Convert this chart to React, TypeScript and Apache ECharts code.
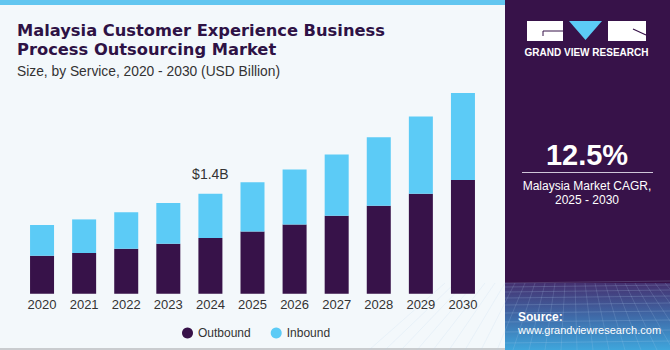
import React, { useEffect, useRef } from "react";
import * as echarts from "echarts";

const years = ["2020", "2021", "2022", "2023", "2024", "2025", "2026", "2027", "2028", "2029", "2030"];
const outbound = [0.53, 0.57, 0.63, 0.7, 0.78, 0.87, 0.97, 1.09, 1.23, 1.4, 1.59];
const inbound = [0.43, 0.47, 0.51, 0.57, 0.62, 0.69, 0.77, 0.86, 0.96, 1.08, 1.22];
const highlightYear = "2024";
const highlightLabel = "$1.4B";
const seriesNames = ["Outbound", "Inbound"];

const DARK = "#371249";
const BLUE = "#5ccbf6";

export default function App() {
  const ref = useRef<HTMLDivElement>(null);
  useEffect(() => {
    if (!ref.current) return;
    const chart = echarts.init(ref.current, null, { renderer: "svg" });

    // perspective grid lines for panel bottom decoration
    const gridLines: any[] = [];
    const py0 = 283;
    const py1 = 350;
    const hs = [0, 4, 9, 15, 22, 30, 39, 49, 60];
    hs.forEach((h) => {
      const y = py0 + h;
      if (y <= py1) {
        gridLines.push({
          type: "line",
          silent: true,
          shape: { x1: 505, y1: y, x2: 670, y2: y - 2 },
          style: { stroke: "rgba(180,210,240,0.3)", lineWidth: 0.7 },
        });
      }
    });
    for (let i = -6; i <= 16; i++) {
      const xTop = 505 + i * 10;
      const xBot = 505 + i * 16 - 40;
      gridLines.push({
        type: "line",
        silent: true,
        shape: { x1: xTop, y1: py0, x2: xBot, y2: py1 },
        style: { stroke: "rgba(180,210,240,0.25)", lineWidth: 0.7 },
      });
    }

    chart.setOption({
      animation: false,
      backgroundColor: "#f3f8fb",
      grid: { left: 21, right: 186, top: 79.4, bottom: 56.3, containLabel: false },
      xAxis: {
        type: "category",
        data: years,
        axisLine: { show: false },
        axisTick: { show: false },
        axisLabel: { color: "#333", fontSize: 13, fontFamily: "Liberation Sans", margin: 4 },
      },
      yAxis: { type: "value", min: 0, max: 3, show: false, splitLine: { show: false } },
      legend: {
        data: seriesNames,
        left: 177,
        top: 322,
        icon: "circle",
        itemWidth: 11,
        itemHeight: 11,
        itemGap: 20,
        textStyle: { color: "#333", fontSize: 12, fontFamily: "Liberation Sans" },
      },
      series: [
        {
          name: seriesNames[0],
          type: "bar",
          stack: "t",
          barWidth: 24,
          data: outbound,
          itemStyle: { color: DARK },
        },
        {
          name: seriesNames[1],
          type: "bar",
          stack: "t",
          barWidth: 24,
          itemStyle: { color: BLUE },
          data: inbound.map((v, i) =>
            years[i] === highlightYear
              ? {
                  value: v,
                  label: {
                    show: true,
                    position: "top",
                    distance: 13,
                    formatter: highlightLabel,
                    color: "#333",
                    fontSize: 14,
                    fontFamily: "Liberation Sans",
                  },
                }
              : v
          ),
        },
      ],
      graphic: [
        { type: "rect", silent: true, shape: { x: 0, y: 0, width: 505, height: 5 }, style: { fill: "#62c6f0" } },
        { type: "rect", silent: true, shape: { x: 0, y: 348, width: 505, height: 2 }, style: { fill: "#c9cccf" } },
        { type: "rect", silent: true, shape: { x: 505, y: 0, width: 165, height: 350 }, style: { fill: DARK } },
        {
          type: "rect",
          silent: true,
          shape: { x: 505, y: 283, width: 165, height: 67 },
          style: {
            fill: new echarts.graphic.LinearGradient(0, 0, 0, 1, [
              { offset: 0, color: "#45306f" },
              { offset: 0.5, color: "#3f6aa8" },
              { offset: 1, color: "#3fa6dc" },
            ]),
          },
        },
        ...gridLines,
        // logo
        { type: "rect", silent: true, shape: { x: 527, y: 21, width: 36, height: 20 }, style: { fill: "#fff" } },
        {
          type: "polyline",
          silent: true,
          shape: { points: [[563, 31], [543, 31], [543, 36]] },
          style: { stroke: DARK, lineWidth: 1, fill: "none" },
        },
        {
          type: "polygon",
          silent: true,
          shape: { points: [[569, 21], [602, 21], [585.5, 40]] },
          style: { fill: BLUE },
        },
        { type: "rect", silent: true, shape: { x: 608, y: 21, width: 38, height: 20 }, style: { fill: "#fff" } },
        {
          type: "line",
          silent: true,
          shape: { x1: 633, y1: 29, x2: 646, y2: 35 },
          style: { stroke: DARK, lineWidth: 1.2 },
        },
        {
          type: "text",
          silent: true,
          x: 586.5,
          y: 52,
          style: {
            text: "GRAND VIEW RESEARCH",
            fill: "#fff",
            fontSize: 10,
            fontWeight: "bold",
            fontFamily: "Liberation Sans",
            align: "center",
            verticalAlign: "middle",
          },
        },
        // title
        {
          type: "text",
          silent: true,
          x: 17,
          y: 30,
          style: {
            text: "Malaysia Customer Experience Business",
            fill: "#2e1245",
            fontSize: 16.3,
            fontWeight: "bold",
            fontFamily: "DejaVu Sans",
            verticalAlign: "middle",
          },
        },
        {
          type: "text",
          silent: true,
          x: 17,
          y: 49,
          style: {
            text: "Process Outsourcing Market",
            fill: "#2e1245",
            fontSize: 16.3,
            fontWeight: "bold",
            fontFamily: "DejaVu Sans",
            verticalAlign: "middle",
          },
        },
        {
          type: "text",
          silent: true,
          x: 17,
          y: 71,
          style: {
            text: "Size, by Service, 2020 - 2030 (USD Billion)",
            fill: "#333",
            fontSize: 13.8,
            fontFamily: "Liberation Sans",
            verticalAlign: "middle",
          },
        },
        // panel texts
        {
          type: "text",
          silent: true,
          x: 587,
          y: 155,
          style: {
            text: "12.5%",
            fill: "#fff",
            fontSize: 29,
            fontWeight: "bold",
            fontFamily: "Liberation Sans",
            align: "center",
            verticalAlign: "middle",
          },
        },
        {
          type: "line",
          silent: true,
          shape: { x1: 522, y1: 172.5, x2: 653, y2: 172.5 },
          style: { stroke: "#cfc6d8", lineWidth: 1 },
        },
        {
          type: "text",
          silent: true,
          x: 587,
          y: 186,
          style: {
            text: "Malaysia Market CAGR,",
            fill: "#fff",
            fontSize: 12,
            fontFamily: "Liberation Sans",
            align: "center",
            verticalAlign: "middle",
          },
        },
        {
          type: "text",
          silent: true,
          x: 587,
          y: 200,
          style: {
            text: "2025 - 2030",
            fill: "#fff",
            fontSize: 12,
            fontFamily: "Liberation Sans",
            align: "center",
            verticalAlign: "middle",
          },
        },
        {
          type: "text",
          silent: true,
          x: 518,
          y: 317,
          style: {
            text: "Source:",
            fill: "#fff",
            fontSize: 12,
            fontWeight: "bold",
            fontFamily: "Liberation Sans",
            verticalAlign: "middle",
          },
        },
        {
          type: "text",
          silent: true,
          x: 518,
          y: 330,
          style: {
            text: "www.grandviewresearch.com",
            fill: "#fff",
            fontSize: 11,
            fontFamily: "Liberation Sans",
            verticalAlign: "middle",
          },
        },
      ],
    });
    return () => chart.dispose();
  }, []);
  return (
    <div
      ref={ref}
      style={{ position: "fixed", left: 0, top: 0, width: 670, height: 350 }}
    />
  );
}
